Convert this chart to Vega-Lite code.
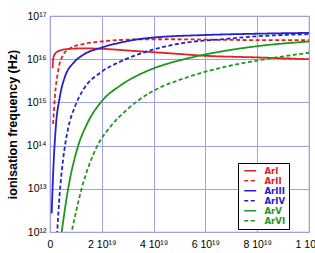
{
  "$schema": "https://vega.github.io/schema/vega-lite/v6.json",
  "width": 259,
  "height": 216,
  "autosize": "none",
  "padding": {"left": 50, "top": 16, "right": 6, "bottom": 21},
  "background": "white",
  "config": {
    "view": {"stroke": "#9a9ae6", "strokeWidth": 1.2},
    "font": "Liberation Sans",
    "axis": {"gridColor": "#a0a0ea", "gridWidth": 1, "gridOpacity": 1, "domain": false, "ticks": false, "labelColor": "black", "labelFont": "Liberation Sans", "labelFontSize": 10.5}
  },
  "data": {"values": [
    {"series": "ArI", "x": 0.1e19, "y": 6.17e15},
    {"series": "ArI", "x": 0.12e19, "y": 1.0e16},
    {"series": "ArI", "x": 0.19e19, "y": 1.32e16},
    {"series": "ArI", "x": 0.38e19, "y": 1.585e16},
    {"series": "ArI", "x": 0.77e19, "y": 1.74e16},
    {"series": "ArI", "x": 1.28e19, "y": 1.78e16},
    {"series": "ArI", "x": 1.99e19, "y": 1.74e16},
    {"series": "ArI", "x": 3.27e19, "y": 1.55e16},
    {"series": "ArI", "x": 4.55e19, "y": 1.38e16},
    {"series": "ArI", "x": 6.0e19, "y": 1.2e16},
    {"series": "ArI", "x": 8.0e19, "y": 1.1e16},
    {"series": "ArI", "x": 10.0e19, "y": 1.0e16},

    {"series": "ArII", "x": 0.12e19, "y": 3.16e14},
    {"series": "ArII", "x": 0.19e19, "y": 1.35e15},
    {"series": "ArII", "x": 0.32e19, "y": 5.6e15},
    {"series": "ArII", "x": 0.51e19, "y": 1.26e16},
    {"series": "ArII", "x": 0.77e19, "y": 1.78e16},
    {"series": "ArII", "x": 1.28e19, "y": 2.24e16},
    {"series": "ArII", "x": 1.99e19, "y": 2.57e16},
    {"series": "ArII", "x": 3.46e19, "y": 2.88e16},
    {"series": "ArII", "x": 4.55e19, "y": 2.9e16},
    {"series": "ArII", "x": 6.73e19, "y": 2.8e16},
    {"series": "ArII", "x": 10.0e19, "y": 2.75e16},

    {"series": "ArIII", "x": 0.065e19, "y": 2.7e12},
    {"series": "ArIII", "x": 0.13e19, "y": 2.95e13},
    {"series": "ArIII", "x": 0.22e19, "y": 2.5e14},
    {"series": "ArIII", "x": 0.38e19, "y": 1.35e15},
    {"series": "ArIII", "x": 0.58e19, "y": 3.98e15},
    {"series": "ArIII", "x": 0.9e19, "y": 8.13e15},
    {"series": "ArIII", "x": 1.28e19, "y": 1.26e16},
    {"series": "ArIII", "x": 1.99e19, "y": 1.86e16},
    {"series": "ArIII", "x": 2.69e19, "y": 2.4e16},
    {"series": "ArIII", "x": 3.27e19, "y": 2.82e16},
    {"series": "ArIII", "x": 3.97e19, "y": 3.16e16},
    {"series": "ArIII", "x": 6.0e19, "y": 3.63e16},
    {"series": "ArIII", "x": 8.0e19, "y": 3.89e16},
    {"series": "ArIII", "x": 10.0e19, "y": 4.07e16},

    {"series": "ArIV", "x": 0.27e19, "y": 8.5e11},
    {"series": "ArIV", "x": 0.38e19, "y": 8.5e12},
    {"series": "ArIV", "x": 0.51e19, "y": 5.0e13},
    {"series": "ArIV", "x": 0.7e19, "y": 2.5e14},
    {"series": "ArIV", "x": 0.96e19, "y": 7.9e14},
    {"series": "ArIV", "x": 1.28e19, "y": 1.95e15},
    {"series": "ArIV", "x": 1.99e19, "y": 5.1e15},
    {"series": "ArIV", "x": 2.69e19, "y": 8.7e15},
    {"series": "ArIV", "x": 3.4e19, "y": 1.29e16},
    {"series": "ArIV", "x": 3.97e19, "y": 1.66e16},
    {"series": "ArIV", "x": 5.19e19, "y": 2.4e16},
    {"series": "ArIV", "x": 6.6e19, "y": 2.88e16},
    {"series": "ArIV", "x": 8.0e19, "y": 3.39e16},
    {"series": "ArIV", "x": 10.0e19, "y": 3.8e16},

    {"series": "ArV", "x": 0.43e19, "y": 8.0e11},
    {"series": "ArV", "x": 0.7e19, "y": 1.0e13},
    {"series": "ArV", "x": 1.09e19, "y": 1.0e14},
    {"series": "ArV", "x": 1.41e19, "y": 3.0e14},
    {"series": "ArV", "x": 1.99e19, "y": 1.05e15},
    {"series": "ArV", "x": 2.69e19, "y": 2.4e15},
    {"series": "ArV", "x": 3.3e19, "y": 3.98e15},
    {"series": "ArV", "x": 3.97e19, "y": 6.03e15},
    {"series": "ArV", "x": 5.19e19, "y": 1.0e16},
    {"series": "ArV", "x": 6.0e19, "y": 1.29e16},
    {"series": "ArV", "x": 6.73e19, "y": 1.55e16},
    {"series": "ArV", "x": 8.0e19, "y": 2.0e16},
    {"series": "ArV", "x": 10.0e19, "y": 2.57e16},

    {"series": "ArVI", "x": 0.8e19, "y": 8.0e11},
    {"series": "ArVI", "x": 1.22e19, "y": 1.0e13},
    {"series": "ArVI", "x": 1.79e19, "y": 8.9e13},
    {"series": "ArVI", "x": 2.35e19, "y": 2.82e14},
    {"series": "ArVI", "x": 2.95e19, "y": 6.6e14},
    {"series": "ArVI", "x": 3.46e19, "y": 1.17e15},
    {"series": "ArVI", "x": 3.97e19, "y": 1.82e15},
    {"series": "ArVI", "x": 5.19e19, "y": 3.63e15},
    {"series": "ArVI", "x": 6.0e19, "y": 5.13e15},
    {"series": "ArVI", "x": 6.73e19, "y": 6.6e15},
    {"series": "ArVI", "x": 8.0e19, "y": 9.3e15},
    {"series": "ArVI", "x": 10.0e19, "y": 1.41e16}
  ]},
  "mark": {"type": "line", "interpolate": "monotone", "clip": true, "strokeWidth": 1.8},
  "encoding": {
    "x": {
      "field": "x", "type": "quantitative",
      "scale": {"domain": [0, 1e20], "nice": false, "zero": false},
      "axis": {
        "title": null,
        "values": [0, 2e19, 4e19, 6e19, 8e19, 1e20],
        "labelExpr": "datum.value == 0 ? '0' : (datum.value >= 1e20 ? '1 10²⁰' : format(datum.value / 1e19, 'd') + ' 10¹⁹')",
        "labelPadding": 7,
        "labelFlush": false,
        "labelOverlap": false
      }
    },
    "y": {
      "field": "y", "type": "quantitative",
      "scale": {"type": "log", "domain": [1e12, 1e17], "nice": false},
      "axis": {
        "title": "ionisation frequency  (Hz)",
        "titleFont": "Liberation Sans",
        "titleFontSize": 12.5,
        "titleFontWeight": "bold",
        "titleColor": "black",
        "titleX": -31,
        "values": [1e12, 1e13, 1e14, 1e15, 1e16, 1e17],
        "labelExpr": "'10' + ['¹²','¹³','¹⁴','¹⁵','¹⁶','¹⁷'][round(log(datum.value) / LN10) - 12]",
        "labelPadding": 4,
        "labelFlush": false,
        "labelOverlap": false
      }
    },
    "color": {
      "field": "series", "type": "nominal",
      "scale": {"domain": ["ArI", "ArII", "ArIII", "ArIV", "ArV", "ArVI"], "range": ["#e02222", "#e02222", "#2222cc", "#2222cc", "#1f961f", "#1f961f"]},
      "legend": {
        "title": null,
        "orient": "none",
        "legendX": 188,
        "legendY": 147,
        "fillColor": "white",
        "strokeColor": "black",
        "padding": 3,
        "symbolType": "M -1 0 H 7",
        "symbolSize": 9,
        "symbolStrokeWidth": 1.6,
        "labelFont": "DejaVu Sans Condensed, Liberation Sans, sans-serif",
        "labelFontWeight": "bold",
        "labelFontSize": 9.5,
        "labelOffset": 14,
        "rowPadding": -1.5,
        "encode": {"labels": {"update": {"fill": {"scale": "color", "field": "value"}}}}
      }
    },
    "strokeDash": {
      "field": "series", "type": "nominal",
      "scale": {"domain": ["ArI", "ArII", "ArIII", "ArIV", "ArV", "ArVI"], "range": [[1, 0], [4, 2.5], [1, 0], [4, 2.5], [1, 0], [4, 2.5]]},
      "legend": {"title": null}
    }
  }
}
